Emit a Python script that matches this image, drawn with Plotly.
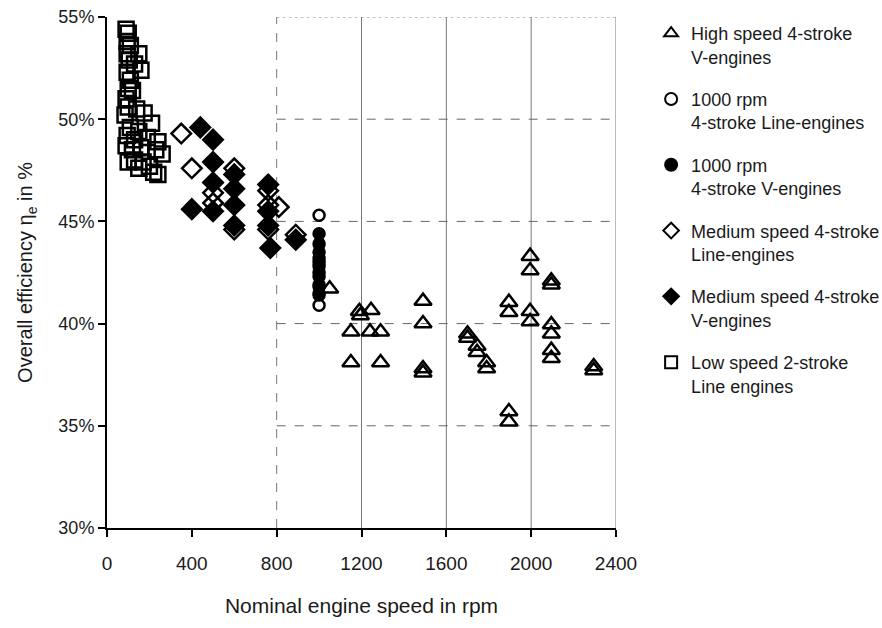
import plotly.graph_objects as go

# Engine efficiency survey: nominal speed (rpm) vs overall efficiency (%)
hs_v_rpm = [1050, 1190, 1195, 1245, 1150, 1240, 1290, 1150, 1290,
            1490, 1490, 1490, 1490, 1700, 1700, 1745, 1745, 1790, 1790,
            1895, 1895, 1895, 1895, 1995, 1995, 1995, 1995,
            2095, 2095, 2095, 2095, 2095, 2095, 2295, 2295]
hs_v_eff = [41.7, 40.6, 40.4, 40.65, 39.6, 39.6, 39.6, 38.1, 38.1,
            41.1, 40.0, 37.8, 37.6, 39.5, 39.3, 38.9, 38.6, 38.1, 37.8,
            41.05, 40.55, 35.7, 35.2, 43.3, 42.6, 40.6, 40.1,
            42.1, 41.9, 39.95, 39.5, 38.7, 38.3, 37.9, 37.7]

k1000_line_rpm = [1000, 1000, 1000, 1000, 1000, 1000]
k1000_line_eff = [45.3, 43.0, 42.5, 41.9, 41.4, 40.9]

k1000_v_rpm = [1000, 1000, 1000, 1000, 1000, 1000, 1000, 1000]
k1000_v_eff = [44.4, 43.9, 43.5, 43.2, 42.8, 42.3, 41.8, 41.5]

ms_line_rpm = [350, 400, 500, 500, 600, 600, 760, 760, 810, 760, 890]
ms_line_eff = [49.3, 47.6, 46.4, 45.9, 47.6, 44.6, 46.5, 45.8, 45.7, 44.6, 44.35]

ms_v_rpm = [440, 500, 500, 500, 500, 400, 600, 600, 600, 600,
            760, 760, 760, 770, 890]
ms_v_eff = [49.6, 49.0, 47.9, 46.9, 45.5, 45.6, 47.3, 46.6, 45.8, 44.8,
            46.8, 45.5, 44.8, 43.7, 44.1]

ls_2s_rpm = [90, 100, 95, 110, 95, 105, 150, 130, 160, 95, 110, 100, 120,
             90, 100, 140, 175, 210, 85, 110, 150, 95, 130, 190, 240, 230,
             90, 120, 160, 260, 130, 170, 200, 150, 220, 240, 100]
ls_2s_eff = [54.4, 54.2, 53.8, 53.6, 53.2, 52.9, 53.2, 52.7, 52.4, 52.3,
             51.9, 51.5, 51.4, 51.0, 50.6, 50.5, 50.3, 49.8, 50.2, 49.6,
             49.4, 49.2, 49.0, 49.1, 48.9, 48.5, 48.7, 48.5, 48.6, 48.3,
             48.0, 47.9, 47.7, 47.6, 47.4, 47.3, 47.9]

x_ticks = [0, 400, 800, 1200, 1600, 2000, 2400]
y_ticks = [30, 35, 40, 45, 50, 55]
grid_x = [800, 1200, 1600, 2000, 2400]
grid_y = [35, 40, 45, 50, 55]

FONT = "Liberation Sans, Arial, sans-serif"
INK = "#1a1a1a"

series = [
    ("High speed 4-stroke<br>V-engines", hs_v_rpm, hs_v_eff, "triangle-up-open", 15),
    ("1000 rpm<br>4-stroke Line-engines", k1000_line_rpm, k1000_line_eff, "circle-open", 11),
    ("1000 rpm<br>4-stroke V-engines", k1000_v_rpm, k1000_v_eff, "circle", 11),
    ("Medium speed 4-stroke<br>Line-engines", ms_line_rpm, ms_line_eff, "diamond-open", 15),
    ("Medium speed 4-stroke<br>V-engines", ms_v_rpm, ms_v_eff, "diamond", 15),
    ("Low speed 2-stroke<br>Line engines", ls_2s_rpm, ls_2s_eff, "square-open", 15),
]

fig = go.Figure()
for i, (name, xs, ys, sym, size) in enumerate(series):
    fig.add_trace(go.Scatter(
        x=xs, y=ys, mode="markers", name=name, legendgroup=f"g{i}",
        marker=dict(symbol=sym, size=size, color="black",
                    line=dict(color="black", width=2.5)),
        cliponaxis=False,
    ))

# Partial reference grid on the right-hand part of the plot
for gx in grid_x:
    fig.add_shape(type="line", xref="x", yref="y", x0=gx, x1=gx,
                  y0=y_ticks[0], y1=y_ticks[-1], layer="below",
                  line=dict(color="#777", width=1,
                            dash="dash" if gx == 800 else "solid"))
for gy in grid_y:
    fig.add_shape(type="line", xref="x", yref="y", x0=800, x1=2400,
                  y0=gy, y1=gy, layer="below",
                  line=dict(color="#888" if gy == 55 else "#666",
                            width=1, dash="dot" if gy == 55 else "dash"))

fig.update_layout(
    width=882, height=628,
    margin=dict(l=107, r=266, t=17, b=100, autoexpand=False),
    paper_bgcolor="white", plot_bgcolor="white",
    font=dict(family=FONT, size=16, color=INK),
    showlegend=True,
    legend=dict(x=1.069, y=1.004, xanchor="left", yanchor="top",
                font=dict(size=18, color=INK), valign="top",
                traceorder="grouped", tracegroupgap=16,
                itemsizing="constant", itemwidth=30, maxheight=600,
                bgcolor="rgba(0,0,0,0)"),
)
fig.update_xaxes(
    range=[0, 2400], tickvals=x_ticks, ticktext=[str(v) for v in x_ticks],
    showgrid=False, zeroline=False, showline=True, linecolor="black",
    linewidth=2, ticks="outside", ticklen=7, tickwidth=2, tickcolor="black",
    ticklabelstandoff=10, tickfont=dict(size=19),
    title=dict(text="Nominal engine speed in rpm", font=dict(size=21),
               standoff=26),
)
fig.update_yaxes(
    range=[30, 55], tickvals=y_ticks, ticktext=[f"{v}%" for v in y_ticks],
    showgrid=False, zeroline=False, showline=True, linecolor="black",
    linewidth=2, ticks="outside", ticklen=7, tickwidth=2, tickcolor="black",
    tickfont=dict(size=18),
    title=dict(text="Overall efficiency η<sub>e</sub> in %", font=dict(size=20),
               standoff=20),
)

fig.write_html("out.html")
